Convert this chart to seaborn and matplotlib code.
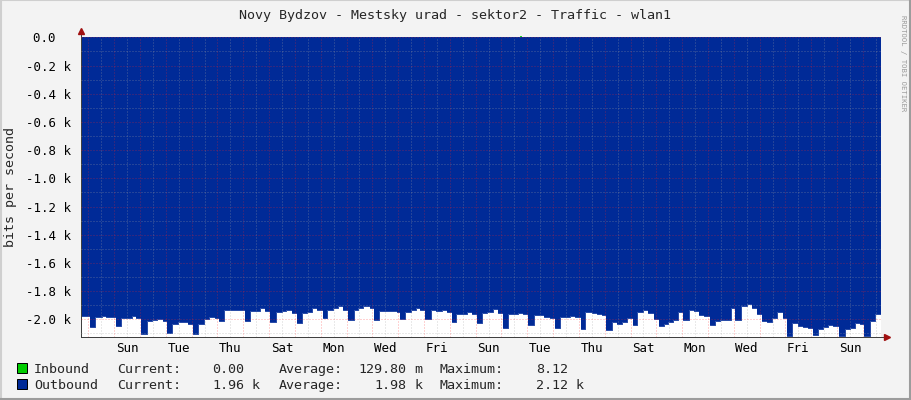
import numpy as np
import pandas as pd
import matplotlib
matplotlib.use("Agg")
import matplotlib.pyplot as plt
import matplotlib.ticker as mticker
from matplotlib.patches import Rectangle
from matplotlib.lines import Line2D
import seaborn as sns

title = "Novy Bydzov - Mestsky urad - sektor2 - Traffic - wlan1"
day_names = ["Sun", "Tue", "Thu", "Sat", "Mon", "Wed", "Fri", "Sun",
             "Tue", "Thu", "Sat", "Mon", "Wed", "Fri", "Sun"]

# hours since the first midnight (Sat 00:00), value holds until next entry
out_hours = [-6.8, 1.6, 6.2, 12.4, 16.5, 21.7, 25.7, 30.1, 40.3, 44.3,
             49.0, 54.2, 58.9, 63.5, 69.1, 73.4, 77.5, 83.7, 93.0, 97.6,
             102.3, 107.5, 112.5, 117.8, 121.8, 126.1,
             145.7, 150.3, 159.6, 164.2, 168.9, 174.5, 179.8, 183.8, 189.0,
             193.7, 198.4, 203.0, 207.7, 212.3, 217.9, 222.2, 227.2, 232.4,
             237.0, 241.7, 247.0, 251.0, 255.6, 261.8, 265.8, 270.5, 286.7,
             289.7, 294.4, 299.7, 304.6, 308.3, 313.0, 318.2, 323.2, 328.5,
             333.1, 337.8, 341.8, 347.1, 351.7, 356.4, 361.0, 365.7, 370.9,
             376.5, 381.1, 385.7, 390.4, 399.7, 404.3, 409.0, 414.3, 423.6,
             429.1, 433.8, 438.5,
             443.1, 447.7, 452.4, 457.7, 461.7, 467.9, 472.6, 477.2, 481.2,
             486.5, 491.1, 495.8, 500.4, 506.0, 510.3, 515.3, 520.5, 525.8,
             530.5, 535.1, 539.1, 543.8, 548.4, 553.1, 558.3, 563.0, 567.9,
             572.6, 577.9, 582.5,
             587.2, 592.7, 597.1, 601.1, 606.4, 612.0, 616.6, 621.3, 625.9,
             630.6, 635.2, 640.4, 645.4, 649.7, 654.4, 659.9, 664.6, 669.2,
             673.9, 678.5, 683.2, 687.8, 692.5, 698.1, 703.3, 708.0, 712.6,
             717.3, 721.0, 726.6, 731.2]
out_bps = [1976, 2055, 1981, 1976, 1981, 1986, 2048, 1993, 1979, 1993,
           2107, 2012, 2007, 2000, 2012, 2100, 2036, 2021, 2031, 2102,
           2031, 1998, 1981, 1988, 2012, 1936,
           2012, 1940, 1917, 1940, 2021, 1950, 1940, 1931, 1955,
           2029, 1955, 1945, 1917, 1931, 1993, 1936, 1921, 1907,
           1936, 2007, 1936, 1921, 1907, 1921, 2002, 1940, 1945,
           1998, 1945, 1931, 1921, 1931, 1998, 1936, 1940, 1936,
           1945, 2017, 1964, 1960, 1950, 1964, 2026, 1955, 1945,
           1929, 1955, 2059, 1960, 1955, 1964, 2040, 1969, 1983,
           1988, 2059, 1985,
           1983, 1979, 1985, 2069, 1950, 1955, 1960, 1969, 2079,
           2021, 2031, 2017, 1993, 2040, 1945, 1936, 1955, 1998,
           2050, 2036, 2017, 2007, 1945, 2007, 1936, 1940, 1969,
           1974, 2040, 2012,
           2007, 2002, 1921, 2002, 1902, 1893, 1921, 1964, 2012,
           2021, 1988, 1950, 1988, 2119, 2026, 2050, 2055, 2059,
           2112, 2069, 2055, 2043, 2050, 2119, 2069, 2059, 2026,
           2031, 2120, 2012, 1960]

in_hours = [-6.8, 402.0, 414.0]
in_bps = [0.0, 8.12, 0.0]
t_start, t_end = -6.8, 736.8

legend_names = ["Inbound", "Outbound"]
legend_colors = ["#00CC00", "#002A97"]
current_vals = [0.00, 1.96]
current_units = ["", "k"]
average_vals = [129.80, 1.98]
average_units = ["m", "k"]
maximum_vals = [8.12, 2.12]
maximum_units = ["", "k"]

sns.set_style("white")
plt.rcParams["font.family"] = ["DejaVu Sans Mono"]
fs = 9.6
fs_tick = 9.0

W, H = 911, 400
fig = plt.figure(figsize=(W / 100, H / 100), dpi=100)
fig.patch.set_facecolor("#F3F3F3")


def fx(px):
    return px / W


def fy(py):
    return 1 - py / H


ax = fig.add_axes([fx(81), fy(336.7), fx(800), (336.7 - 37.3) / H])
ax.set_facecolor("white")

out = pd.DataFrame({"hours": out_hours + [t_end], "bps": out_bps + [out_bps[-1]]})
out["neg"] = -out["bps"]
ax.fill_between(out["hours"], 0, out["neg"], step="post", color="#002A97", lw=0, zorder=1)
sns.lineplot(data=out, x="hours", y="neg", drawstyle="steps-post", color="#002A97",
             lw=0.6, estimator=None, sort=False, ax=ax, zorder=1.2)

inb = pd.DataFrame({"hours": in_hours + [t_end], "bps": in_bps + [in_bps[-1]]})
ax.fill_between(inb["hours"], 0, inb["bps"], step="post", where=inb["bps"] > 0,
                color="#00CC00", edgecolor="#00CC00", lw=1.2, clip_on=False, zorder=3)

ax.set_xlim(t_start, t_end)
ax.set_ylim(-2123, 0)

ax.xaxis.set_major_locator(mticker.FixedLocator(np.arange(0, 721, 24)))
ax.xaxis.set_minor_locator(mticker.FixedLocator(np.arange(12, 733, 24)))
ax.xaxis.set_major_formatter(mticker.NullFormatter())


def day_label(t, pos):
    k = (t - 36) / 48
    if k >= 0 and abs(k - round(k)) < 1e-6 and int(round(k)) < len(day_names):
        return day_names[int(round(k))]
    return ""


ax.xaxis.set_minor_formatter(mticker.FuncFormatter(day_label))

ax.yaxis.set_major_locator(mticker.MultipleLocator(200))
ax.yaxis.set_minor_locator(mticker.MultipleLocator(100))
ax.yaxis.set_major_formatter(mticker.FuncFormatter(
    lambda v, pos: "0.0  " if abs(v) < 1e-6 else f"{v / 1000:.1f} k"))

ax.set_axisbelow(False)
dot = (0, (1, 2))
ax.grid(which="major", color="#ff2020", alpha=0.4, lw=0.72, ls=dot)
ax.grid(which="minor", color="#a0a0a0", alpha=0.45, lw=0.72, ls=dot)

ax.tick_params(axis="both", which="both", direction="out", color="#404040",
               labelsize=fs_tick, labelcolor="#000000", width=0.72)
ax.tick_params(axis="x", which="major", length=3, pad=2)
ax.tick_params(axis="x", which="minor", length=2, pad=2)
ax.tick_params(axis="y", which="major", length=3, pad=4.5)
ax.tick_params(axis="y", which="minor", length=2)

for side in ["top", "right"]:
    ax.spines[side].set_visible(False)
for side in ["left", "bottom"]:
    ax.spines[side].set_color("#404040")
    ax.spines[side].set_linewidth(0.72)

# axis arrows
ax.plot([0, 0], [1, 1.02], transform=ax.transAxes, color="#404040", lw=0.72, clip_on=False)
ax.plot([1, 1.006], [0, 0], transform=ax.transAxes, color="#404040", lw=0.72, clip_on=False)
ax.plot([0], [1.022], marker="^", ms=4.5, color="#A01010", transform=ax.transAxes, clip_on=False)
ax.plot([1.008], [0], marker=">", ms=4.5, color="#A01010", transform=ax.transAxes, clip_on=False)

ax.set_xlabel("")
ax.set_ylabel("")

fig.text(fx(455), fy(19.3), title, ha="center", va="baseline", fontsize=fs)
fig.text(fx(11), fy(187), "bits per second", rotation=90, ha="center", va="center", fontsize=fs)
fig.text(fx(903), fy(63), "RRDTOOL / TOBI OETIKER", rotation=270, ha="center", va="center",
         fontsize=5.2, color="#9a9a9a")

# legend
cw = 7.86
rows_y = [373.3, 389.0]
for i, name in enumerate(legend_names):
    yb = rows_y[i]
    fig.patches.append(Rectangle((fx(17), fy(yb)), fx(10), 10 / H, transform=fig.transFigure,
                                 facecolor=legend_colors[i], edgecolor="black", lw=0.72))
    fig.text(fx(34), fy(yb), name, ha="left", va="baseline", fontsize=fs)
    fig.text(fx(116.7), fy(yb), "Current:", ha="left", va="baseline", fontsize=fs)
    fig.text(fx(244), fy(yb), f"{current_vals[i]:.2f}", ha="right", va="baseline", fontsize=fs)
    fig.text(fx(244 + cw), fy(yb), current_units[i], ha="left", va="baseline", fontsize=fs)
    fig.text(fx(279), fy(yb), "Average:", ha="left", va="baseline", fontsize=fs)
    fig.text(fx(406.3), fy(yb), f"{average_vals[i]:.2f}", ha="right", va="baseline", fontsize=fs)
    fig.text(fx(406.3 + cw), fy(yb), average_units[i], ha="left", va="baseline", fontsize=fs)
    fig.text(fx(440), fy(yb), "Maximum:", ha="left", va="baseline", fontsize=fs)
    fig.text(fx(568), fy(yb), f"{maximum_vals[i]:.2f}", ha="right", va="baseline", fontsize=fs)
    fig.text(fx(568 + cw), fy(yb), maximum_units[i], ha="left", va="baseline", fontsize=fs)

# 3d-ish frame around the image
fig.add_artist(Line2D([0, 1], [0.999, 0.999], transform=fig.transFigure, color="#cfcfcf", lw=1.5))
fig.add_artist(Line2D([0.001, 0.001], [0, 1], transform=fig.transFigure, color="#cfcfcf", lw=1.5))
fig.add_artist(Line2D([0, 1], [0.002, 0.002], transform=fig.transFigure, color="#9c9c9c", lw=1.5))
fig.add_artist(Line2D([0.999, 0.999], [0, 1], transform=fig.transFigure, color="#9c9c9c", lw=1.5))

fig.savefig("out.png", dpi=100, facecolor=fig.get_facecolor())
